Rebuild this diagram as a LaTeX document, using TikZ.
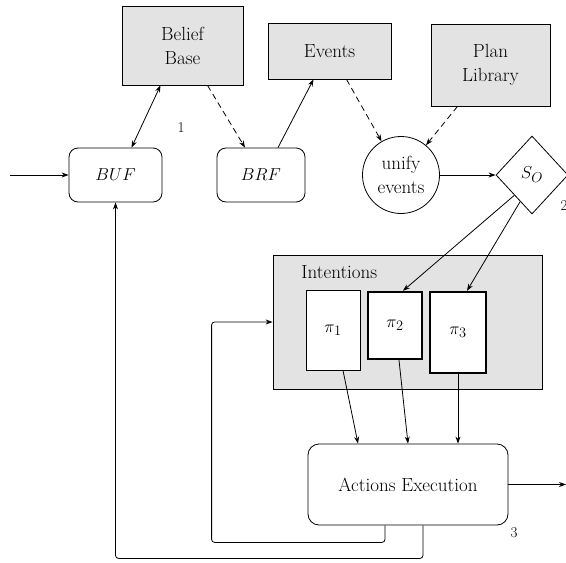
\documentclass[tikz,border=0pt]{standalone}
\usepackage{amsmath}
\usetikzlibrary{arrows.meta, shapes.geometric}

\begin{document}
\begin{tikzpicture}[x=1pt,y=-1pt,line width=0.8pt,>={Stealth[length=7pt,width=5pt]},
  font=\fontsize{19}{24}\selectfont,
  store/.style={draw, fill=gray!22, align=center, inner sep=0pt},
  func/.style={draw, rounded corners=9pt, align=center, inner sep=0pt},
  plan/.style={draw, fill=white, inner sep=0pt, minimum width=54pt},
  lab/.style={font=\fontsize{15}{18}\selectfont, inner sep=0pt},
  dashlink/.style={->, dash pattern=on 6pt off 4pt}]
\useasboundingbox (0,0) rectangle (566,563);
% data stores
\node[store, minimum width=121pt, minimum height=79pt] (bb) at (182.5,45.5) {Belief\\Base};
\node[store, minimum width=123pt, minimum height=56pt] (ev) at (329.5,51) {Events};
\node[store, minimum width=119pt, minimum height=82pt] (pl) at (490.5,65) {Plan\\Library};
% functions
\node[func, minimum width=93pt, minimum height=54pt] (buf) at (115.5,175) {$BUF$};
\node[func, minimum width=88pt, minimum height=54pt] (brf) at (261,175) {$BRF$};
\node[draw, circle, minimum size=77pt, inner sep=0pt, align=center] (ue) at (401,175) {unify\\events};
\node[draw, diamond, minimum width=72pt, minimum height=78pt, inner sep=0pt] (so) at (532,175) {$S_O$};
% intentions
\node[store, minimum width=269pt, minimum height=134pt] (int) at (407.5,322) {};
\node[anchor=west, inner sep=0pt] (intlab) at (301,272) {Intentions};
\node[plan, minimum height=80pt] (p1) at (333,330) {$\pi_1$};
\node[plan, line width=2.4pt, minimum height=67pt] (p2) at (395,325.5) {$\pi_2$};
\node[plan, line width=2.4pt, minimum height=81pt, minimum width=56pt] (p3) at (458,332.5) {$\pi_3$};
\node[func, rounded corners=11pt, minimum width=200pt, minimum height=81pt] (ae) at (408,484.5) {Actions Execution};
% numbers
\node[lab] (n1) at (181,128) {1};
\node[lab] (n2) at (564,206) {2};
\node[lab] (n3) at (514,533) {3};
\coordinate (in) at (10,175);
\coordinate (out) at (566,484.5);

\draw[->] (in) -- (buf.west);
\draw[<->] ([xshift=16pt]buf.north) -- ([xshift=-22pt]bb.south);
\draw[dashlink] ([xshift=25pt]bb.south) -- ([xshift=-16pt]brf.north);
\draw[->] ([xshift=17pt]brf.north) -- ([xshift=-16pt]ev.south);
\draw[dashlink] ([xshift=17pt]ev.south) -- (ue.120);
\draw[dashlink] ([xshift=-33pt]pl.south) -- (ue.50);
\draw[->] (ue.east) -- (so.west);
\draw[->] (so.-131) -- ([xshift=8pt]p2.north);
\draw[->] (so.-114) -- ([xshift=9pt]p3.north);
\draw[->] ([xshift=10pt]p1.south) -- ([xshift=-50pt]ae.north);
\draw[->] ([xshift=4pt]p2.south) -- (ae.north);
\draw[->] (p3.south) -- ([xshift=50pt]ae.north);
\draw[->] (ae.east) -- (out);
\draw[->, rounded corners=3pt] ([xshift=-23pt]ae.south) -- ++(0,17) -| ([xshift=-61pt]int.west) -- (int.west);
\draw[->, rounded corners=3pt] ([xshift=15pt]ae.south) -- ++(0,33) -| (buf.south);
\end{tikzpicture}
\end{document}
